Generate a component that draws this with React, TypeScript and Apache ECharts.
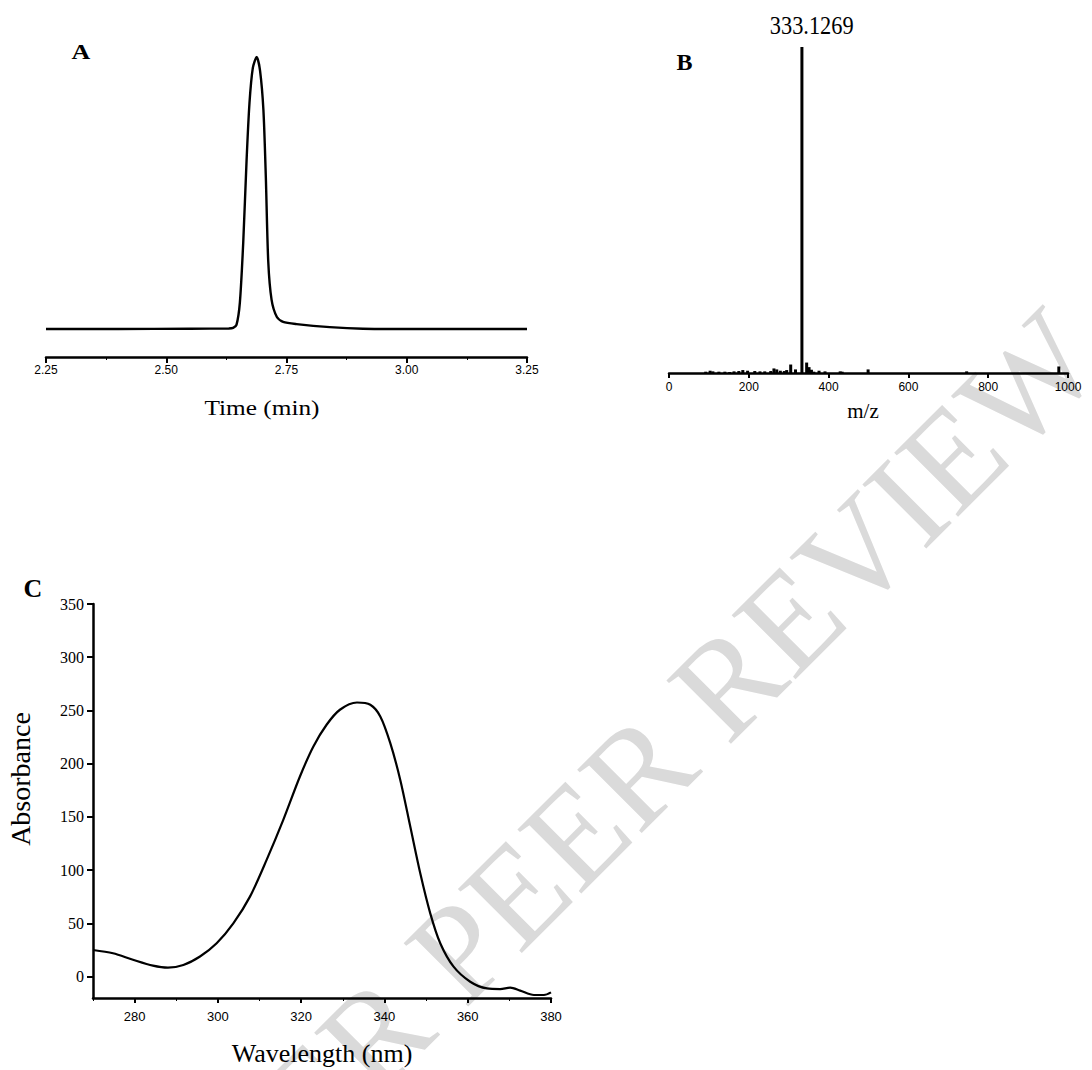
import React, { useEffect, useRef } from "react";
import * as echarts from "echarts";

// Panel A: chromatogram (time in min, relative intensity)
const timeMin = [2.25, 2.4, 2.55, 2.63, 2.639, 2.646, 2.653, 2.66, 2.667, 2.673, 2.68, 2.688, 2.695, 2.702, 2.707, 2.712, 2.719, 2.73, 2.743, 2.771, 2.84, 2.909, 3.0, 3.25];
const intensityA = [0, 0, 0.1, 0.2, 0.4, 1.5, 9.6, 31.6, 62, 83, 96, 100, 95, 80.5, 56, 25, 10.7, 4.4, 2.6, 1.8, 0.7, 0.1, 0, 0];
const timeTicks = [2.25, 2.5, 2.75, 3.0, 3.25];

// Panel B: mass spectrum (m/z, relative abundance %)
const mz = [92, 103, 110, 125, 140, 152, 163, 175, 185, 197, 215, 228, 240, 255, 263, 270, 279, 289, 295, 305, 317, 333.1269, 345, 351, 357, 363, 376, 391, 429, 434, 499, 746, 977];
const abundance = [0.4, 0.7, 0.5, 0.4, 0.4, 0.3, 0.5, 0.6, 0.9, 0.7, 0.6, 0.5, 0.5, 0.6, 1.4, 1.1, 0.7, 0.6, 0.9, 2.6, 1.1, 100, 3.2, 1.8, 1.0, 0.4, 0.7, 0.5, 0.5, 0.4, 1.1, 0.5, 2.0];
const basePeakLabel = "333.1269";

// Panel C: UV spectrum
const wavelength = [270, 274.8, 279.6, 284.4, 288, 291.7, 295.7, 299.7, 303.7, 307.7, 311.7, 315.7, 319.7, 322.9, 326.1, 329.3, 333.4, 336.6, 339, 341.4, 343.8, 346.2, 348.6, 351, 353.4, 356.6, 360.6, 364.6, 367.8, 370.2, 372.6, 375.9, 378.3, 380];
const absorbance = [25.1, 22, 15.9, 10.4, 8.5, 11, 19, 31.4, 50.1, 75.2, 109.7, 147.3, 188, 216, 236.6, 250.7, 257.5, 255.4, 244.4, 219.3, 184.8, 141, 97.1, 59.5, 31.4, 9.4, -4.7, -11, -11.6, -10.3, -13.1, -17.2, -17.2, -14.7];
const wlTicks = [280, 300, 320, 340, 360, 380];
const absTicks = [0, 50, 100, 150, 200, 250, 300, 350];

const SERIF = "Liberation Serif";
const SANS = "Liberation Sans";

export default function App() {
  const ref = useRef<HTMLDivElement>(null);

  useEffect(() => {
    if (!ref.current) return;
    const chart = echarts.init(ref.current, undefined, { renderer: "svg" });

    const axisLine = { show: true, onZero: false, lineStyle: { color: "#000", width: 2.5 } };
    const axisTick = { show: true, length: 6, lineStyle: { color: "#000", width: 2 } };

    const option: any = {
      animation: false,
      backgroundColor: "#fff",
      grid: [
        { left: 46, top: 57, width: 481, height: 300, containLabel: false },
        { left: 669, top: 47, width: 399, height: 326, containLabel: false },
        { left: 93, top: 604, width: 458, height: 394, containLabel: false },
        { left: 93, top: 604, width: 458, height: 394, containLabel: false },
      ],
      xAxis: [
        {
          gridIndex: 0, type: "value", min: 2.25, max: 3.25, interval: 0.25,
          axisLine, axisTick,
          minorTick: { show: true, splitNumber: 2, length: 3, lineStyle: { color: "#000", width: 1 } },
          splitLine: { show: false },
          axisLabel: {
            color: "#000", fontFamily: SANS, fontSize: 12, margin: 7,
            customValues: timeTicks,
            formatter: (v: number) => v.toFixed(2),
          },
        },
        {
          gridIndex: 1, type: "value", min: 0, max: 1000, interval: 200,
          axisLine, axisTick: { ...axisTick, length: 5 },
          splitLine: { show: false },
          axisLabel: { color: "#000", fontFamily: SANS, fontSize: 12, margin: 8, formatter: (v: number) => String(v) },
        },
        {
          gridIndex: 2, type: "value", min: 270, max: 380,
          axisLine, axisTick: { ...axisTick, length: 5, customValues: wlTicks },
          splitLine: { show: false },
          axisLabel: { color: "#000", fontFamily: SANS, fontSize: 13, margin: 12, customValues: wlTicks, formatter: (v: number) => String(v) },
        },
        {
          gridIndex: 3, type: "value", min: 270, max: 380, interval: 10,
          axisLine: { show: false, onZero: false },
          axisTick: { show: true, length: 3, lineStyle: { color: "#000", width: 1 } },
          splitLine: { show: false },
          axisLabel: { show: false },
        },
      ],
      yAxis: [
        { gridIndex: 0, type: "value", min: -10.3, max: 100, show: false },
        { gridIndex: 1, type: "value", min: 0, max: 100, show: false },
        {
          gridIndex: 2, type: "value", min: -20, max: 350,
          axisLine, axisTick: { ...axisTick, length: 6, customValues: absTicks },
          splitLine: { show: false },
          axisLabel: { color: "#000", fontFamily: SERIF, fontSize: 16, margin: 9, customValues: absTicks },
        },
        { gridIndex: 3, type: "value", min: -20, max: 350, show: false },
      ],
      series: [
        {
          type: "line", xAxisIndex: 0, yAxisIndex: 0,
          data: timeMin.map((t, i) => [t, intensityA[i]]),
          smooth: 0.25, showSymbol: false, symbol: "none",
          lineStyle: { color: "#000", width: 2.4 },
        },
        {
          type: "bar", xAxisIndex: 1, yAxisIndex: 1,
          data: mz.map((m, i) => [m, abundance[i]]),
          barWidth: 3, itemStyle: { color: "#000" },
        },
        {
          type: "line", xAxisIndex: 2, yAxisIndex: 2,
          data: wavelength.map((w, i) => [w, absorbance[i]]),
          smooth: 0.3, showSymbol: false, symbol: "none",
          lineStyle: { color: "#000", width: 2.2 },
        },
      ],
      graphic: [
        {
          type: "text", x: 1074, y: 335, rotation: 0.785, z: -10, silent: true,
          style: { text: "UNDER PEER REVIEW", fill: "#dadada", fontSize: 138, fontFamily: SERIF, textAlign: "right", textVerticalAlign: "middle" },
        },
        { type: "text", x: 81, y: 52, scaleX: 1.3, style: { text: "A", fill: "#000", fontSize: 20, fontWeight: "bold", fontFamily: SERIF, textAlign: "center", textVerticalAlign: "middle" } },
        { type: "text", x: 684.5, y: 62, style: { text: "B", fill: "#000", fontSize: 24, fontWeight: "bold", fontFamily: SERIF, textAlign: "center", textVerticalAlign: "middle" } },
        { type: "text", x: 33, y: 588, style: { text: "C", fill: "#000", fontSize: 26, fontWeight: "bold", fontFamily: SERIF, textAlign: "center", textVerticalAlign: "middle" } },
        { type: "text", x: 262, y: 408, scaleX: 1.15, style: { text: "Time (min)", fill: "#000", fontSize: 22, fontFamily: SERIF, textAlign: "center", textVerticalAlign: "middle" } },
        { type: "text", x: 811.7, y: 25, scaleX: 0.86, style: { text: basePeakLabel, fill: "#000", fontSize: 26, fontFamily: SERIF, textAlign: "center", textVerticalAlign: "middle" } },
        { type: "text", x: 863, y: 411, style: { text: "m/z", fill: "#000", fontSize: 21, fontFamily: SERIF, textAlign: "center", textVerticalAlign: "middle" } },
        { type: "text", x: 20, y: 779, rotation: Math.PI / 2, style: { text: "Absorbance", fill: "#000", fontSize: 28, fontFamily: SERIF, textAlign: "center", textVerticalAlign: "middle" } },
        { type: "text", x: 322, y: 1053, style: { text: "Wavelength (nm)", fill: "#000", fontSize: 26, fontFamily: SERIF, textAlign: "center", textVerticalAlign: "middle" } },
      ],
    };

    chart.setOption(option);
    return () => chart.dispose();
  }, []);

  return (
    <div
      ref={ref}
      style={{ position: "absolute", left: 0, top: 0, width: 1092, height: 1070, background: "#fff" }}
    />
  );
}
